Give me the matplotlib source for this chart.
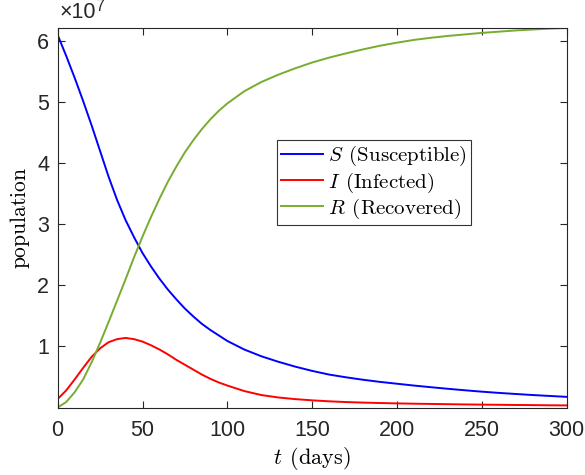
import matplotlib
matplotlib.use("Agg")
import matplotlib.pyplot as plt
import numpy as np

# values, population in units of 1e7
days = [0, 5, 10, 15, 20, 25, 30, 35, 40, 45, 50, 55, 60, 65, 70, 75, 80, 85, 90, 95, 100,
        110, 120, 130, 140, 150, 160, 170, 180, 190, 200,
        210, 220, 230, 240, 250, 260, 270, 280, 290, 300]

susceptible = [6.10, 5.76, 5.40, 5.02, 4.62, 4.20, 3.78, 3.40, 3.07, 2.79, 2.53, 2.31, 2.11, 1.93,
               1.77, 1.62, 1.49, 1.37, 1.27, 1.18, 1.09,
               0.95, 0.84, 0.75, 0.67, 0.60, 0.54, 0.495, 0.455, 0.42, 0.39,
               0.36, 0.333, 0.307, 0.283, 0.26, 0.24, 0.222, 0.205, 0.19, 0.175]

infected = [0.14, 0.28, 0.46, 0.65, 0.83, 0.97, 1.07, 1.12, 1.14, 1.12, 1.08, 1.02, 0.95, 0.87,
            0.78, 0.70, 0.62, 0.54, 0.47, 0.41, 0.36,
            0.27, 0.205, 0.165, 0.138, 0.118, 0.102, 0.09, 0.081, 0.074, 0.068,
            0.063, 0.059, 0.055, 0.051, 0.048, 0.045, 0.042, 0.04, 0.037, 0.035]

recovered = [0.0, 0.09, 0.25, 0.46, 0.74, 1.06, 1.40, 1.75, 2.10, 2.46, 2.80, 3.12, 3.42, 3.70,
             3.95, 4.18, 4.38, 4.56, 4.72, 4.86, 4.98,
             5.18, 5.33, 5.45, 5.555, 5.65, 5.73, 5.80, 5.865, 5.925, 5.975,
             6.02, 6.055, 6.085, 6.11, 6.135, 6.155, 6.175, 6.19, 6.205, 6.215]

labels = [r"$S\;\,\mathrm{(Susceptible)}$", r"$I\;\,\mathrm{(Infected)}$", r"$R\;\,\mathrm{(Recovered)}$"]
colors = ["#0000ff", "#ff0000", "#77ac30"]
scale = 1e7
axis_color = "#262626"

plt.rcParams["mathtext.fontset"] = "cm"
plt.rcParams["font.family"] = ["Liberation Sans", "DejaVu Sans"]

fig = plt.figure(figsize=(5.85, 4.75), dpi=100)
ax = fig.add_axes([0.0986, 0.142, 0.8701, 0.7997])

for series, lab, col in zip([susceptible, infected, recovered], labels, colors):
    ax.plot(days, np.array(series) * scale, color=col, lw=1.4, label=lab)

ax.set_xlim(0, 300)
ax.set_ylim(0, 6.22 * scale)
ax.set_xticks(range(0, 301, 50))
ax.set_yticks([k * scale for k in range(1, 7)])
ax.set_yticklabels([str(k) for k in range(1, 7)])

ax.tick_params(direction="in", length=5, width=0.8, colors=axis_color,
               labelsize=15.5, top=True, right=True)
ax.tick_params(axis="x", pad=9)
ax.tick_params(axis="y", pad=6)
for side in ax.spines.values():
    side.set_color(axis_color)
    side.set_linewidth(0.8)

# exponent label like MATLAB's
ax.text(0.004, 1.012, "\u00d710", transform=ax.transAxes, fontsize=15.5,
        color=axis_color, ha="left", va="bottom")
ax.text(0.074, 1.036, "7", transform=ax.transAxes, fontsize=11.5,
        color=axis_color, ha="left", va="bottom")

ax.set_xlabel(r"$t\;\,\mathrm{(days)}$", fontsize=16, color="black", labelpad=3)
ax.set_ylabel(r"$\mathrm{population}$", fontsize=15.5, color="black", labelpad=4)

leg = ax.legend(loc="upper left", bbox_to_anchor=(0.431, 0.704), fontsize=15,
                frameon=True, fancybox=False, handlelength=2.0, handletextpad=0.25,
                borderpad=0.2, labelspacing=0.1, borderaxespad=0)
leg.get_frame().set_edgecolor("black")
leg.get_frame().set_linewidth(0.8)

fig.savefig("out.png", dpi=100)
